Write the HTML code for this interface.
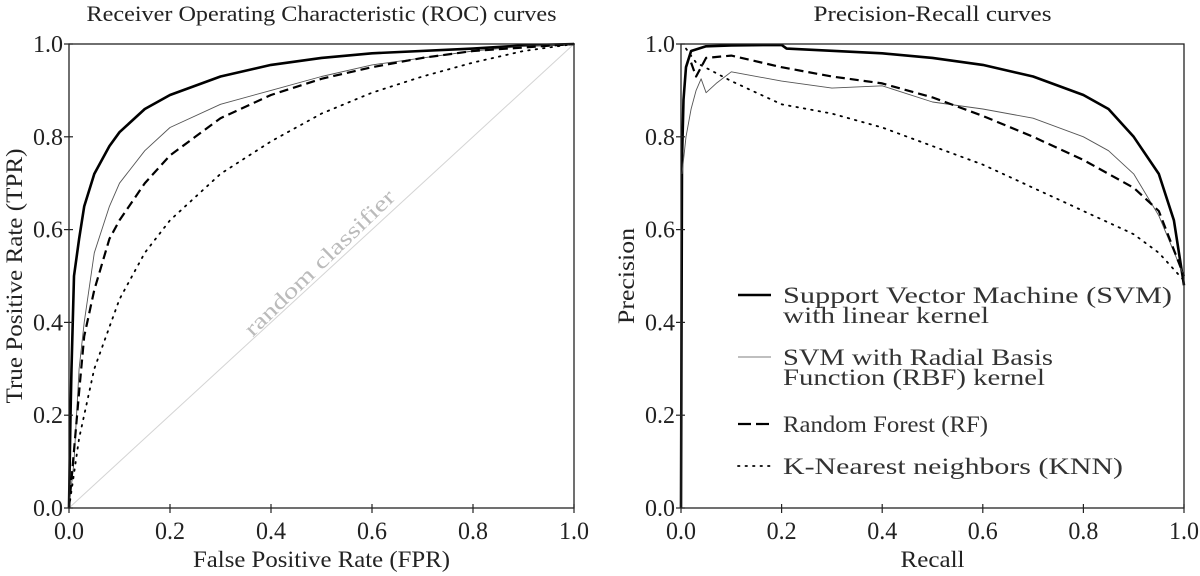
<!DOCTYPE html>
<html><head><meta charset="utf-8"><style>
html,body{margin:0;padding:0;background:#fff;}
svg{display:block;font-family:"Liberation Serif",serif;}
</style></head><body>
<svg id="chart" width="1200" height="576" viewBox="0 0 1200 576" font-family="Liberation Serif, serif"></svg>
<script>
// ROC data (fpr, tpr)
const rocSvmX=[0,0.003,0.005,0.01,0.02,0.03,0.05,0.08,0.1,0.15,0.2,0.3,0.4,0.5,0.6,0.8,0.9,1];
const rocSvmY=[0,0.2,0.3,0.5,0.58,0.65,0.72,0.78,0.81,0.86,0.89,0.93,0.955,0.97,0.98,0.99,0.997,1];
const rocRbfX=[0,0.01,0.02,0.03,0.05,0.08,0.1,0.15,0.2,0.3,0.4,0.5,0.6,0.7,0.8,0.9,1];
const rocRbfY=[0,0.1,0.3,0.4,0.55,0.65,0.7,0.77,0.82,0.87,0.9,0.93,0.955,0.97,0.985,0.995,1];
const rocRfX=[0,0.02,0.03,0.05,0.08,0.1,0.15,0.2,0.25,0.3,0.4,0.5,0.6,0.7,0.8,1];
const rocRfY=[0,0.25,0.37,0.47,0.58,0.62,0.7,0.76,0.8,0.84,0.89,0.925,0.95,0.97,0.985,1];
const rocKnnX=[0,0.02,0.05,0.1,0.15,0.2,0.3,0.4,0.5,0.6,0.7,0.8,0.9,1];
const rocKnnY=[0,0.15,0.3,0.45,0.55,0.62,0.72,0.79,0.85,0.895,0.93,0.96,0.985,1];
// PR data (recall, precision)
const prSvmX=[0,0.002,0.005,0.01,0.02,0.05,0.1,0.2,0.21,0.4,0.5,0.6,0.7,0.8,0.85,0.9,0.95,0.98,1];
const prSvmY=[0,0.75,0.88,0.95,0.985,0.995,0.997,0.998,0.99,0.98,0.97,0.955,0.93,0.89,0.86,0.8,0.72,0.62,0.48];
const prRbfX=[0.002,0.01,0.02,0.03,0.04,0.05,0.07,0.1,0.2,0.3,0.4,0.5,0.6,0.7,0.8,0.85,0.9,0.95,1];
const prRbfY=[0.72,0.8,0.86,0.9,0.925,0.895,0.915,0.94,0.92,0.905,0.91,0.875,0.86,0.84,0.8,0.77,0.72,0.63,0.5];
const prRfX=[0.02,0.03,0.05,0.1,0.2,0.3,0.4,0.5,0.6,0.7,0.8,0.9,0.95,1];
const prRfY=[0.96,0.93,0.97,0.975,0.95,0.93,0.915,0.885,0.845,0.8,0.75,0.69,0.64,0.5];
const prKnnX=[0.01,0.03,0.1,0.2,0.3,0.4,0.5,0.6,0.7,0.8,0.9,0.95,1];
const prKnnY=[0.99,0.96,0.92,0.87,0.85,0.82,0.78,0.74,0.69,0.64,0.59,0.55,0.49];
const ticks=[0,0.2,0.4,0.6,0.8,1.0];
const tickLabels=["0.0","0.2","0.4","0.6","0.8","1.0"];

const svg=document.getElementById('chart');
const NS='http://www.w3.org/2000/svg';
function mk(tag,attrs,parent){const e=document.createElementNS(NS,tag);for(const k in attrs)e.setAttribute(k,attrs[k]);(parent||svg).appendChild(e);return e;}
const FONT='Liberation Serif, serif';
const Y0=508,Y1=44;
function sy(v){return Y0-(Y0-Y1)*v;}
const styles={
 svm:{stroke:'#000','stroke-width':2.6},
 rbf:{stroke:'#555','stroke-width':0.9},
 rf:{stroke:'#000','stroke-width':2.2,'stroke-dasharray':'9,5'},
 knn:{stroke:'#000','stroke-width':1.8,'stroke-dasharray':'1.5,6','stroke-linecap':'round'}
};
function txt(parent,attrs,content,len){
  const a=Object.assign({'font-family':FONT},attrs);
  if(len){a.textLength=len;a.lengthAdjust='spacingAndGlyphs';}
  const t=mk('text',a,parent);t.textContent=content;return t;
}
function panel(name,x0,x1,title,titleLen,xl,xlLen,yl,ylLen,series){
  const g=mk('g',{});
  
  
  const sx=v=>x0+(x1-x0)*v;
  if(name==='roc-panel'){
    const d=mk('line',{x1:sx(0),y1:sy(0),x2:sx(1),y2:sy(1),stroke:'#d4d4d4','stroke-width':1},g);
    
    
    const t=txt(g,{x:0,y:0,'font-size':22,fill:'#bbb','text-anchor':'middle',transform:`translate(${sx(0.5)+3},${sy(0.5)-8}) rotate(-44)`},'random classifier',200);
    
    
  }
  series.forEach(s=>{
    const pts=s.x.map((v,i)=>sx(v).toFixed(1)+','+sy(s.y[i]).toFixed(1)).join(' ');
    const p=mk('polyline',Object.assign({points:pts,fill:'none','stroke-linejoin':'round'},styles[s.k]),g);
    
    
  });
  const fr=mk('rect',{x:x0,y:Y1,width:x1-x0,height:Y0-Y1,fill:'none',stroke:'#222','stroke-width':1.3},g);
  
  
  ticks.forEach((t,i)=>{
    mk('line',{x1:sx(t),x2:sx(t),y1:Y0-4,y2:Y0+5,stroke:'#222','stroke-width':1.2},g);
    mk('line',{y1:sy(t),y2:sy(t),x1:x0-5,x2:x0+4,stroke:'#222','stroke-width':1.2},g);
    const tx=txt(g,{x:sx(t),y:539,'font-size':25,fill:'#222','text-anchor':'middle'},tickLabels[i],30);
    
    
    const ty=txt(g,{x:x0-6,y:sy(t)+8,'font-size':24,fill:'#222','text-anchor':'end'},tickLabels[i],30);
    
    
  });
  const tt=txt(g,{x:(x0+x1)/2,y:21,'font-size':22,fill:'#222','text-anchor':'middle'},title,titleLen);
  
  
  const xt=txt(g,{x:(x0+x1)/2,y:567,'font-size':23,fill:'#222','text-anchor':'middle'},xl,xlLen);
  
  
  const yt=txt(g,{x:0,y:0,'font-size':23,fill:'#222','text-anchor':'middle',transform:`translate(${x0-47},${(Y0+Y1)/2}) rotate(-90)`},yl,ylLen);
  
  
}
panel('roc-panel',69,574,'Receiver Operating Characteristic (ROC) curves',470,'False Positive Rate (FPR)',257,'True Positive Rate (TPR)',255,[
 {k:'svm',n:'roc-svm-line',x:rocSvmX,y:rocSvmY},{k:'rbf',n:'roc-rbf-line',x:rocRbfX,y:rocRbfY},
 {k:'rf',n:'roc-rf-line',x:rocRfX,y:rocRfY},{k:'knn',n:'roc-knn-line',x:rocKnnX,y:rocKnnY}]);
panel('pr-panel',681,1184,'Precision-Recall curves',238,'Recall',64,'Precision',96,[
 {k:'svm',n:'pr-svm-line',x:prSvmX,y:prSvmY},{k:'rbf',n:'pr-rbf-line',x:prRbfX,y:prRbfY},
 {k:'rf',n:'pr-rf-line',x:prRfX,y:prRfY},{k:'knn',n:'pr-knn-line',x:prKnnX,y:prKnnY}]);
// legend
const lg=mk('g',{});


const entries=[
 {k:'svm',y:295,lines:['Support Vector Machine (SVM)','with linear kernel'],lens:[389,206]},
 {k:'rbf',y:357,lines:['SVM with Radial Basis','Function (RBF) kernel'],lens:[270,262]},
 {k:'rf',y:424,lines:['Random Forest (RF)'],lens:[205]},
 {k:'knn',y:466,lines:['K-Nearest neighbors (KNN)'],lens:[340]}];
entries.forEach(e=>{
  const g=mk('g',{},lg);
  
  
  mk('line',Object.assign({x1:738,x2:771,y1:e.y,y2:e.y},styles[e.k],e.k==='rbf'?{stroke:'#999','stroke-width':1.2}:{},e.k==='rf'?{'stroke-dasharray':'13,5'}:{}),g);
  e.lines.forEach((t,i)=>{txt(g,{x:783,y:e.y+8+i*20,'font-size':23,fill:'#333'},t,e.lens[i]);});
});
</script>
</body></html>
